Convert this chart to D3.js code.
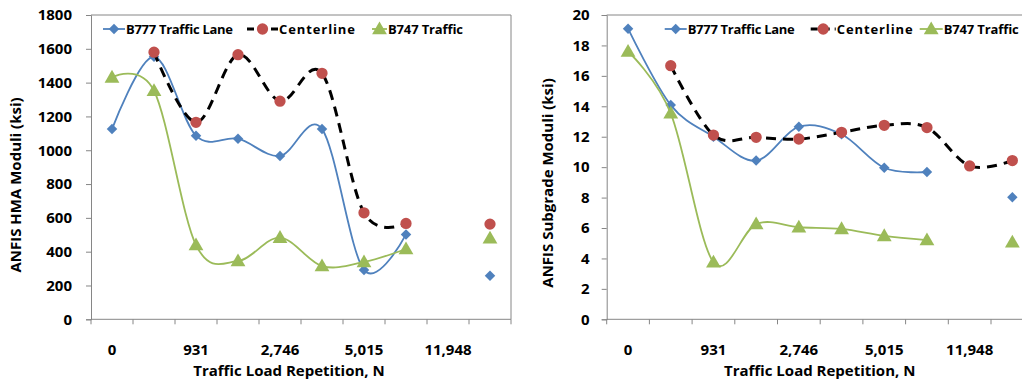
<!DOCTYPE html>
<html>
<head>
<meta charset="utf-8">
<script src="https://cdn.jsdelivr.net/npm/d3@7"></script>
<style>
  body { margin: 0; background: #fff; }
  svg text { font-family: "Open Sans", Lato, sans-serif; font-weight: bold; fill: #000; }
</style>
</head>
<body>
<div id="chart-area"></div>
<script>
// x categories, only every second one is labelled
const tickLabels = ["0", "", "931", "", "2,746", "", "5,015", "", "11,948", ""];
const seriesNames = ["B777 Traffic Lane", "Centerline", "B747 Traffic"];

// HMA moduli (ksi)
const hmaB777   = [1125, 1553, 1086, 1068, 966, 1125, 292, 502, null, 258];
const hmaCenter = [null, 1580, 1165, 1565, 1290, 1455, 630, 567, null, 563];
const hmaB747   = [1431, 1352, 439, 345, 483, 315, 339, 416, null, 479];
const hmaTicks  = [0, 200, 400, 600, 800, 1000, 1200, 1400, 1600, 1800];

// Subgrade moduli (ksi)
const subB777   = [19.1, 14.08, 12.0, 10.43, 12.66, 12.16, 9.96, 9.68, null, 8.02];
const subCenter = [null, 16.67, 12.11, 11.96, 11.85, 12.29, 12.75, 12.6, 10.08, 10.43];
const subB747   = [17.6, 13.54, 3.75, 6.26, 6.05, 5.94, 5.48, 5.21, null, 5.06];
const subTicks  = [0, 2, 4, 6, 8, 10, 12, 14, 16, 18, 20];

const COLORS = { B777: "#4F81BD", CENTER: "#C0504D", B747: "#9BBB59", AXIS: "#868686" };

const svg = d3.select("#chart-area")
  .append("svg")
    .attr("width", 1022)
    .attr("height", 381);

function marker(kind) {
  if (kind === 0) return d3.symbol(d3.symbolDiamond2, 70)();
  if (kind === 1) return d3.symbol(d3.symbolCircle, 100)();
  return d3.symbol(d3.symbolTriangle, 95)();
}

const drawChart = (opt) => {
  const g = svg.append("g").attr("transform", `translate(${opt.left}, ${opt.top})`);
  const W = opt.width, H = opt.height;

  const x = d3.scaleBand().domain(d3.range(tickLabels.length)).range([0, W]);
  const y = d3.scaleLinear().domain([0, opt.max]).range([H, 0]);

  // plot area border (top and right)
  g.append("path")
    .attr("d", `M0,0H${W}V${H}`)
    .attr("fill", "none")
    .attr("stroke", COLORS.AXIS);

  // y axis
  const yAxis = g.append("g")
    .call(d3.axisLeft(y).tickValues(opt.ticks).tickFormat(d3.format("d")).tickSize(5).tickPadding(opt.yPad));
  yAxis.select(".domain").attr("stroke", COLORS.AXIS);
  yAxis.selectAll(".tick line").attr("stroke", COLORS.AXIS);
  yAxis.selectAll("text").attr("font-size", "15px");

  // x axis - ticks on band edges, labels in band centres
  const xg = g.append("g").attr("transform", `translate(0, ${H})`);
  xg.append("line").attr("x1", 0).attr("x2", W).attr("stroke", COLORS.AXIS);
  xg.selectAll(".xt")
    .data(d3.range(tickLabels.length + 1))
    .enter().append("line")
      .attr("x1", i => i * x.bandwidth())
      .attr("x2", i => i * x.bandwidth())
      .attr("y1", 0).attr("y2", 5)
      .attr("stroke", COLORS.AXIS);
  xg.selectAll(".xl")
    .data(tickLabels)
    .enter().append("text")
      .attr("x", (d, i) => x(i) + x.bandwidth() / 2)
      .attr("y", 36)
      .attr("font-size", "15px")
      .attr("text-anchor", "middle")
      .text(d => d);

  // axis titles
  g.append("text")
    .attr("x", opt.xTitleX)
    .attr("y", H + 57)
    .attr("font-size", "15px")
    .attr("text-anchor", "middle")
    .text("Traffic Load Repetition, N");

  g.append("text")
    .attr("transform", `translate(${opt.yTitleX}, ${opt.yTitleY}) rotate(-90)`)
    .attr("font-size", "15px")
    .attr("text-anchor", "middle")
    .text(opt.yTitle);

  const cx = i => x(i) + x.bandwidth() / 2;
  const line = d3.line()
    .defined(d => d != null)
    .x((d, i) => cx(i))
    .y(d => y(d))
    .curve(d3.curveCardinal.tension(0));

  const series = [
    { values: opt.data[0], color: COLORS.B777, width: 1.8, dash: null },
    { values: opt.data[1], color: "#000", width: 3, dash: "10,7" },
    { values: opt.data[2], color: COLORS.B747, width: 1.8, dash: null }
  ];
  const mcol = [COLORS.B777, COLORS.CENTER, COLORS.B747];

  series.forEach((s, k) => {
    g.append("path")
      .attr("d", line(s.values))
      .attr("fill", "none")
      .attr("stroke", s.color)
      .attr("stroke-width", s.width)
      .attr("stroke-dasharray", s.dash);
    g.selectAll(".m" + k)
      .data(s.values.map((v, i) => [v, i]).filter(d => d[0] != null))
      .enter().append("path")
        .attr("d", marker(k))
        .attr("transform", d => `translate(${cx(d[1])}, ${y(d[0]) + (k === 2 ? 1 : 0)})`)
        .attr("fill", mcol[k]);
  });

  // legend
  const lg = g.append("g").attr("transform", `translate(0, 14)`);
  opt.legend.forEach((p, k) => {
    lg.append("line")
      .attr("x1", p[0]).attr("x2", p[1])
      .attr("stroke", series[k].color)
      .attr("stroke-width", series[k].width)
      .attr("stroke-dasharray", k === 1 ? "7,5" : null);
    lg.append("path")
      .attr("d", marker(k))
      .attr("transform", `translate(${(p[0] + p[1]) / 2}, ${k === 2 ? 1 : 0})`)
      .attr("fill", mcol[k]);
    lg.append("text")
      .attr("x", p[1] + 1)
      .attr("y", 5)
      .attr("font-size", "13px")
      .attr("textLength", p[2])
      .text(seriesNames[k]);
  });
}

drawChart({
  left: 91, top: 15, width: 420, height: 304.3, max: 1800, ticks: hmaTicks,
  yPad: 14, data: [hmaB777, hmaCenter, hmaB747],
  yTitle: "ANFIS HMA Moduli (ksi)", yTitleX: -70, yTitleY: 170, xTitleX: 198,
  legend: [[12, 34, 107], [156, 187, 76], [281, 296, 75]]
});

drawChart({
  left: 606.7, top: 15, width: 427, height: 304.3, max: 20, ticks: subTicks,
  yPad: 12, data: [subB777, subCenter, subB747],
  yTitle: "ANFIS Subgrade Moduli (ksi)", yTitleX: -54, yTitleY: 168, xTitleX: 213,
  legend: [[58, 80, 107], [204, 229, 76], [313, 336, 75]]
});
</script>
</body>
</html>
